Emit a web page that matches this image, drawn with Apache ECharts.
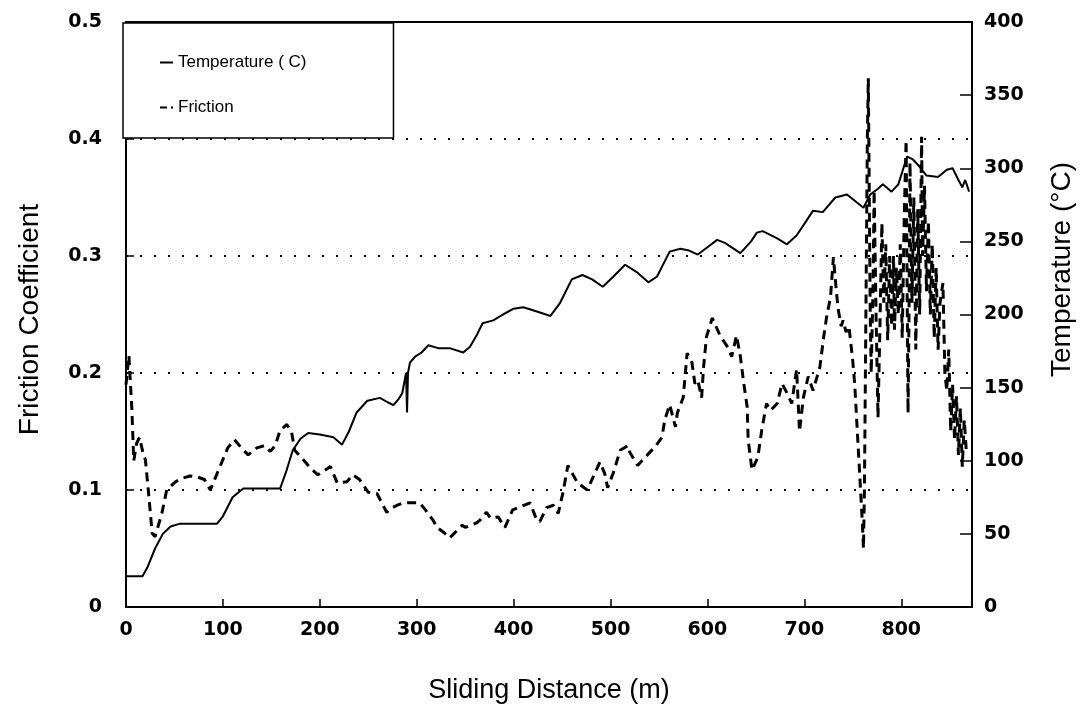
<!DOCTYPE html>
<html>
<head>
<meta charset="utf-8">
<script src="https://cdn.jsdelivr.net/npm/echarts@6/dist/echarts.min.js"></script>
<style>
  html, body { margin: 0; padding: 0; background: #fff; }
  #chart { width: 1085px; height: 724px; }
</style>
</head>
<body>
<div id="chart"></div>
<script>
// temperature trace (solid, right axis)
var tempDist = [0, 17, 22, 30, 38, 46, 56, 94, 100, 110, 121, 159, 165, 172, 180, 188, 200, 214, 223, 230, 238, 249,
  262, 270, 276, 281, 285, 289, 290, 291, 293, 298, 305, 312, 322, 334, 348, 355, 362, 368, 379, 389, 400, 410, 424,
  438, 448, 460, 471, 481, 492, 503, 515, 527, 539, 548, 561, 572, 580, 590, 600, 610, 618, 634, 645, 651, 657, 672,
  682, 692, 700, 709, 719, 732, 744, 761, 768, 776, 781, 790, 797, 806, 812, 819, 826, 838, 847, 853, 859, 863, 866, 870];
var tempVals = [21, 21, 27, 40, 50, 55, 57, 57, 62, 75, 81, 81, 92, 107, 115, 119, 118, 116, 111, 120, 133, 141,
  143, 140, 138, 142, 146, 160, 133, 160, 167, 171, 174, 179, 177, 177, 174, 178, 186, 194, 196, 200, 204, 205, 202,
  199, 208, 224, 227, 224, 219, 226, 234, 229, 222, 226, 243, 245, 244, 241, 246, 251, 249, 242, 250, 256, 257, 252,
  248, 254, 262, 271, 270, 280, 282, 273, 282, 286, 289, 284, 289, 308, 306, 301, 295, 294, 299, 300, 292, 287, 292, 284];

// friction trace (dashed, left axis)
var fricDist = [0, 3, 6, 8, 11, 14, 18, 20, 23, 27, 30, 37, 42, 51, 58, 66, 74, 81, 87, 97, 105, 112, 118, 126, 135,
  143, 149, 154, 159, 166, 171, 174, 185, 190, 198, 211, 218, 228, 234, 241, 250, 259, 269, 275, 280, 286, 303, 309,
  317, 321, 329, 334, 347, 350, 362, 365, 372, 376, 384, 391, 399, 405, 417, 424, 427, 434, 441, 446, 451, 456, 460,
  466, 476, 482, 489, 494, 497, 503, 510, 518, 520, 528, 538, 546, 553, 556, 561, 567, 569, 575, 579, 584, 587, 590,
  594, 596, 599, 605, 613, 621, 625, 630, 634, 637, 641, 642, 646, 652, 656, 661, 665, 672, 677, 682, 687, 692, 694,
  695, 699, 704, 709, 716, 720, 723, 727, 730, 733, 735, 738, 740, 743, 746, 748, 750, 752, 754, 756, 758, 760, 761,
  762, 763, 764, 765, 766, 767, 768, 769, 771, 772, 774, 776, 778, 780, 782, 784, 786, 788, 790, 792, 793, 795, 797,
  799, 801, 803, 805, 806, 807, 808, 809, 811, 813, 815, 817, 819, 821, 822, 824, 826, 828, 830, 832, 834, 836, 838,
  840, 843, 845, 847, 849, 851, 853, 855, 857, 859, 861, 863, 865, 867];
var fricVals = [0.19, 0.215, 0.17, 0.125, 0.14, 0.145, 0.13, 0.126, 0.1, 0.063, 0.06, 0.08, 0.1, 0.107, 0.11, 0.112,
  0.111, 0.109, 0.1, 0.12, 0.136, 0.143, 0.137, 0.13, 0.136, 0.138, 0.133, 0.138, 0.151, 0.156, 0.149, 0.134, 0.124,
  0.119, 0.113, 0.12, 0.106, 0.107, 0.113, 0.109, 0.098, 0.097, 0.081, 0.085, 0.087, 0.089, 0.089, 0.083, 0.074, 0.068,
  0.063, 0.059, 0.07, 0.068, 0.072, 0.074, 0.081, 0.076, 0.077, 0.068, 0.083, 0.085, 0.089, 0.074, 0.073, 0.085, 0.087,
  0.08, 0.098, 0.121, 0.115, 0.106, 0.1, 0.111, 0.124, 0.114, 0.102, 0.115, 0.134, 0.138, 0.132, 0.121, 0.13, 0.137,
  0.145, 0.16, 0.173, 0.154, 0.166, 0.179, 0.217, 0.209, 0.191, 0.194, 0.179, 0.205, 0.231, 0.247, 0.232, 0.222, 0.214,
  0.232, 0.214, 0.194, 0.171, 0.143, 0.117, 0.128, 0.151, 0.174, 0.168, 0.174, 0.191, 0.183, 0.174, 0.203, 0.168, 0.15,
  0.179, 0.197, 0.185, 0.205, 0.231, 0.248, 0.265, 0.299, 0.27, 0.254, 0.24, 0.245, 0.235, 0.24, 0.225, 0.21, 0.19,
  0.16, 0.13, 0.1, 0.07, 0.05, 0.1, 0.2, 0.3, 0.4, 0.452, 0.35, 0.25, 0.2, 0.28, 0.356, 0.25, 0.162, 0.24, 0.328, 0.26,
  0.31, 0.228, 0.3, 0.24, 0.3, 0.237, 0.29, 0.25, 0.31, 0.23, 0.33, 0.399, 0.28, 0.166, 0.25, 0.38, 0.26, 0.35, 0.22,
  0.34, 0.25, 0.402, 0.3, 0.36, 0.27, 0.33, 0.25, 0.31, 0.23, 0.29, 0.22, 0.26, 0.277, 0.2, 0.185, 0.22, 0.15, 0.19,
  0.143, 0.18, 0.13, 0.17, 0.12, 0.16, 0.135];

var fricTicks = [0, 0.1, 0.2, 0.3, 0.4, 0.5];

function zip(xs, ys) {
  var out = [];
  for (var i = 0; i < xs.length; i++) out.push([xs[i], ys[i]]);
  return out;
}

var chart = echarts.init(document.getElementById("chart"));
var tickFont = { color: "#000", fontSize: 19, fontFamily: "DejaVu Sans", fontWeight: "bold" };
var nameFont = { color: "#000", fontSize: 28, fontFamily: "Liberation Sans" };

var option = {
  backgroundColor: "#fff",
  animation: false,
  grid: {
    left: 126,
    right: 113,
    top: 22,
    bottom: 117,
    show: true,
    borderColor: "#000",
    borderWidth: 2,
  },
  legend: {
    orient: "vertical",
    left: 123,
    top: 23,
    backgroundColor: "#fff",
    borderColor: "#000",
    borderWidth: 1.5,
    padding: [31, 87, 22, 37],
    itemGap: 28,
    itemWidth: 13,
    itemHeight: 2,
    textStyle: { color: "#000", fontSize: 17, fontFamily: "Liberation Sans" },
    data: [
      { name: "Temperature ( C)", icon: "rect" },
      // short dash then a dot, as in the original key
      { name: "Friction", icon: "path://M0,0 L7,0 L7,2 L0,2 Z M11,0 L13,0 L13,2 L11,2 Z" },
    ],
  },
  xAxis: {
    type: "value",
    min: 0,
    max: 873,
    interval: 100,
    name: "Sliding Distance (m)",
    nameLocation: "middle",
    nameGap: 70,
    nameTextStyle: Object.assign({}, nameFont, { fontSize: 27 }),
    axisLine: { lineStyle: { color: "#000", width: 2 } },
    axisTick: { inside: true, length: 8, lineStyle: { color: "#000", width: 1.5 } },
    axisLabel: Object.assign({ margin: 14, showMaxLabel: false }, tickFont),
    splitLine: { show: false },
  },
  yAxis: [
    {
      type: "value",
      min: fricTicks[0],
      max: fricTicks[fricTicks.length - 1],
      interval: 0.1,
      name: "Friction Coefficient",
      nameLocation: "middle",
      nameRotate: 90,
      nameGap: 82,
      nameTextStyle: Object.assign({ padding: [0, 10, 0, 0] }, nameFont),
      axisLine: { show: true, lineStyle: { color: "#000", width: 2 } },
      axisTick: { inside: true, length: 8, lineStyle: { color: "#000", width: 1.5 } },
      axisLabel: Object.assign({
        margin: 24,
        formatter: function (v) { return v === 0 ? "0" : v.toFixed(1); },
      }, tickFont),
      splitLine: { show: true, lineStyle: { color: "#000", width: 2, type: [2, 12] } },
    },
    {
      type: "value",
      min: 0,
      max: 400,
      interval: 50,
      position: "right",
      name: "Temperature (°C)",
      nameLocation: "middle",
      nameRotate: 90,
      nameGap: 76,
      nameTextStyle: Object.assign({ padding: [0, 0, 0, 90] }, nameFont),
      axisLine: { show: true, lineStyle: { color: "#000", width: 2 } },
      axisTick: { inside: true, length: 12, lineStyle: { color: "#000", width: 1.5 } },
      axisLabel: Object.assign({ margin: 12 }, tickFont),
      splitLine: { show: false },
    },
  ],
  series: [
    {
      name: "Temperature ( C)",
      type: "line",
      yAxisIndex: 1,
      showSymbol: false,
      symbol: "none",
      lineStyle: { color: "#000", width: 2 },
      itemStyle: { color: "#000" },
      data: zip(tempDist, tempVals),
    },
    {
      name: "Friction",
      type: "line",
      yAxisIndex: 0,
      showSymbol: false,
      symbol: "none",
      lineStyle: { color: "#000", width: 3, type: [9, 6] },
      itemStyle: { color: "#000" },
      data: zip(fricDist, fricVals),
    },
  ],
};

chart.setOption(option);
</script>
</body>
</html>
